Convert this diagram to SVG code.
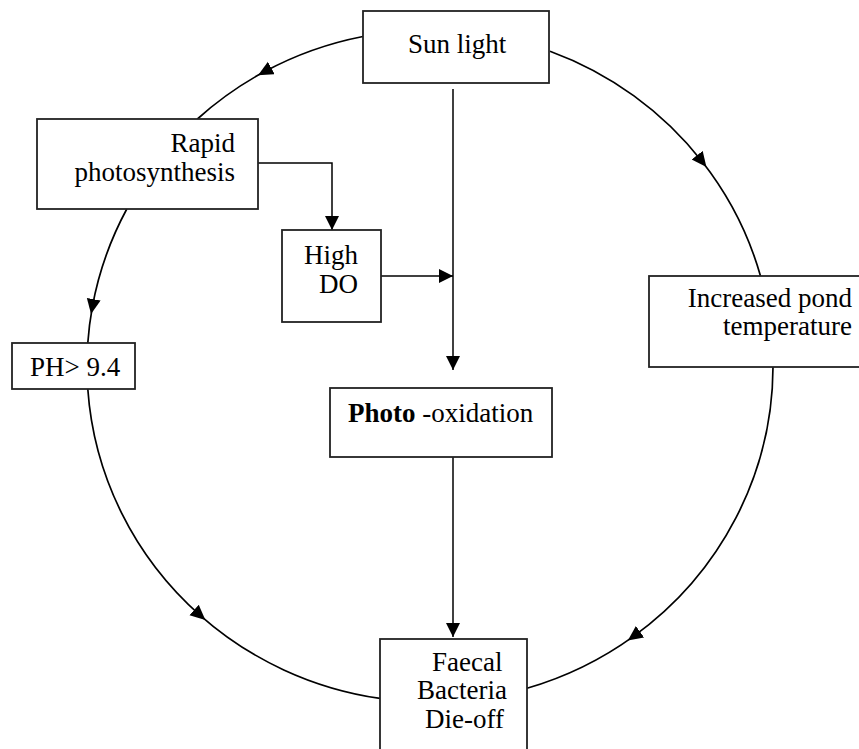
<svg xmlns="http://www.w3.org/2000/svg" width="859" height="749" viewBox="0 0 859 749">
<style>
.box{fill:#fff;stroke:#222;stroke-width:1.8}
.t{font-family:"Liberation Serif","Times New Roman",serif;font-size:27px;fill:#000}
.e{text-anchor:end}
.ln{fill:none;stroke:#000;stroke-width:1.5}
.arc{fill:none;stroke:#000;stroke-width:1.7}
</style>
<defs>
<marker id="ah" markerUnits="userSpaceOnUse" markerWidth="16" markerHeight="16" refX="14" refY="7" orient="auto">
<path d="M0,0 L14,7 L0,14 z" fill="#000"/>
</marker>
<marker id="am" markerUnits="userSpaceOnUse" markerWidth="18" markerHeight="16" refX="8" refY="7" orient="auto">
<path d="M0,0 L15,7 L0,14 z" fill="#000"/>
</marker>
</defs>
<g id="connectors">
<path class="arc" marker-mid="url(#am)" d="M363,36.5 A343,336 0 0 0 264.2,71.8 A343,336 0 0 0 197.4,119"/>
<path class="arc" marker-mid="url(#am)" d="M126.8,209 A343,336 0 0 0 92.3,307.1 A343,336 0 0 0 87.8,343"/>
<path class="arc" marker-mid="url(#am)" d="M87.8,389 A343,336 0 0 0 200.1,615.3 A343,336 0 0 0 380,698.4"/>
<path class="arc" marker-mid="url(#am)" d="M550,51.2 A343,336 0 0 1 702.1,161.5 A343,336 0 0 1 760.5,276"/>
<path class="arc" marker-mid="url(#am)" d="M773,367 A343,336 0 0 1 633.5,636.4 A343,336 0 0 1 527,688.3"/>
<path class="ln" marker-end="url(#ah)" d="M258,163 H332 V230"/>
<path class="ln" marker-end="url(#ah)" d="M453,89 V370"/>
<path class="ln" marker-end="url(#ah)" d="M381,276 H453"/>
<path class="ln" marker-end="url(#ah)" d="M453,457 V637"/>
</g>
<g id="sunlight">
<rect class="box" x="363" y="11" width="186" height="72"/>
<text class="t" x="408" y="53">Sun light</text>
</g>
<g id="rapid">
<rect class="box" x="37" y="119" width="221" height="90"/>
<text class="t e" x="235" y="152">Rapid</text>
<text class="t e" x="235" y="181">photosynthesis</text>
</g>
<g id="highdo">
<rect class="box" x="282" y="230" width="99" height="92"/>
<text class="t e" x="358" y="264">High</text>
<text class="t e" x="358" y="293">DO</text>
</g>
<g id="ph">
<rect class="box" x="12" y="343" width="123" height="46"/>
<text class="t" x="30" y="376">PH&gt; 9.4</text>
</g>
<g id="temperature">
<rect class="box" x="649" y="276" width="215" height="91"/>
<text class="t e" x="852" y="307">Increased pond</text>
<text class="t e" x="852" y="335">temperature</text>
</g>
<g id="photooxidation">
<rect class="box" x="330" y="388" width="222" height="69"/>
<text class="t" x="348" y="422"><tspan font-weight="bold">Photo</tspan> -oxidation</text>
</g>
<g id="faecal">
<rect class="box" x="380" y="639" width="147" height="120"/>
<text class="t" x="432" y="671">Faecal</text>
<text class="t" x="417" y="699">Bacteria</text>
<text class="t" x="425" y="728">Die-off</text>
</g>
</svg>
